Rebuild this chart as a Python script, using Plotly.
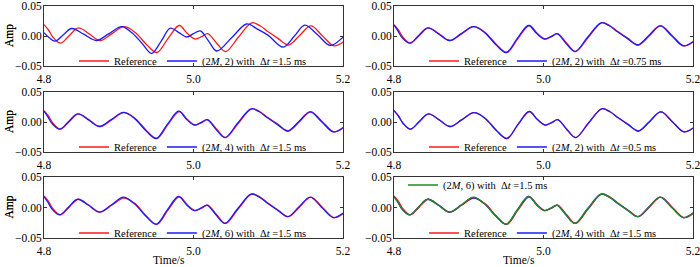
import plotly.graph_objects as go

# ---------------- data ----------------
ref_t = [4.800, 4.806, 4.812, 4.822, 4.834, 4.846, 4.860, 4.875, 4.891, 4.907, 4.922, 4.937,
         4.951, 4.966, 4.981, 4.992, 5.002, 5.011, 5.019, 5.031, 5.043, 5.060, 5.078, 5.089,
         5.100, 5.113, 5.127, 5.142, 5.157, 5.172, 5.188, 5.200]
ref_v = [0.019, 0.010, -0.002, -0.012, 0.001, 0.0135, 0.004, -0.0075, 0.004, 0.0155, 0.006, -0.014,
         -0.0275, -0.004, 0.0175, 0.004, -0.005, -0.001, 0.004, -0.012, -0.026, -0.002, 0.022, 0.017,
         0.007, -0.004, -0.015, 0.001, 0.017, 0.001, -0.0165, -0.010]

# (2M,2) with dt=1.5 ms
m2_15_t = [4.800, 4.807, 4.815, 4.826, 4.837, 4.853, 4.870, 4.887, 4.904, 4.918, 4.931, 4.944,
           4.957, 4.969, 4.980, 4.991, 5.000, 5.009, 5.020, 5.031, 5.051, 5.071, 5.085, 5.100,
           5.120, 5.135, 5.149, 5.166, 5.183, 5.200]
m2_15_v = [0.0056, -0.003, -0.0085, 0.002, 0.0125, 0.003, -0.0075, 0.004, 0.0157, 0.005, -0.012, -0.029,
           -0.008, 0.013, 0.006, -0.0017, 0.004, 0.0085, -0.008, -0.025, -0.003, 0.020, 0.012, 0.001,
           -0.0185, 0.000, 0.018, 0.002, -0.0157, -0.002]

# near-identical solutions (slight phase lead)
lead_t = [4.800, 4.805, 4.811, 4.821, 4.833, 4.845, 4.859, 4.874, 4.890, 4.906, 4.921, 4.936,
          4.950, 4.965, 4.980, 4.991, 5.001, 5.010, 5.018, 5.030, 5.042, 5.059, 5.077, 5.088,
          5.099, 5.112, 5.126, 5.141, 5.156, 5.171, 5.187, 5.200]
m2_075_v = [0.018, 0.009, -0.003, -0.012, 0.001, 0.0135, 0.004, -0.0075, 0.004, 0.0155, 0.006, -0.014,
            -0.0275, -0.004, 0.0175, 0.004, -0.005, -0.001, 0.004, -0.012, -0.026, -0.002, 0.022, 0.017,
            0.007, -0.004, -0.015, 0.001, 0.017, 0.001, -0.0165, -0.009]
m4_15_v = [0.018, 0.009, -0.003, -0.012, 0.001, 0.0135, 0.004, -0.0075, 0.004, 0.016, 0.006, -0.014,
           -0.0275, -0.004, 0.018, 0.004, -0.005, -0.001, 0.004, -0.012, -0.026, -0.002, 0.022, 0.017,
           0.007, -0.004, -0.015, 0.001, 0.017, 0.001, -0.0165, -0.009]
m2_05_v = [0.019, 0.010, -0.002, -0.012, 0.001, 0.0135, 0.004, -0.0075, 0.004, 0.0155, 0.006, -0.014,
           -0.0275, -0.004, 0.0175, 0.004, -0.005, -0.001, 0.004, -0.012, -0.026, -0.002, 0.022, 0.017,
           0.007, -0.004, -0.015, 0.001, 0.017, 0.001, -0.0165, -0.010]
m6_15_v = [0.018, 0.009, -0.003, -0.012, 0.001, 0.0135, 0.004, -0.0075, 0.004, 0.017, 0.006, -0.014,
           -0.0275, -0.004, 0.018, 0.004, -0.005, -0.001, 0.004, -0.012, -0.026, -0.002, 0.022, 0.017,
           0.007, -0.004, -0.015, 0.001, 0.017, 0.001, -0.0165, -0.009]

x_ticks = [4.8, 5.0, 5.2]
x_tick_labels = ["4.8", "5.0", "5.2"]
y_ticks = [-0.05, 0.0, 0.05]
y_tick_labels = ["\u22120.05", "0.00", "0.05"]

RED = "#ff1a1a"
BLUE = "#1a1aff"
GREEN = "#1e8c1e"
FONT = "Liberation Serif"
NB = "\u00a0"

def lbl(m, dt):
    return f"(2<i>M</i>, {m}) with{NB}{NB}\u0394<i>t</i>{NB}={dt} ms"

W, H = 700, 267
cols_px = [(44, 343), (394, 693)]
rows_px = [(6, 66), (92, 152), (177, 238)]

fig = go.Figure()

panels = [
    (0, 0, [(ref_t, ref_v, "Reference", RED), (m2_15_t, m2_15_v, lbl(2, "1.5"), BLUE)]),
    (0, 1, [(ref_t, ref_v, "Reference", RED), (lead_t, m2_075_v, lbl(2, "0.75"), BLUE)]),
    (1, 0, [(ref_t, ref_v, "Reference", RED), (lead_t, m4_15_v, lbl(4, "1.5"), BLUE)]),
    (1, 1, [(ref_t, ref_v, "Reference", RED), (ref_t, m2_05_v, lbl(2, "0.5"), BLUE)]),
    (2, 0, [(ref_t, ref_v, "Reference", RED), (lead_t, m6_15_v, lbl(6, "1.5"), BLUE)]),
    (2, 1, [(ref_t, ref_v, "Reference", RED), (lead_t, m4_15_v, lbl(4, "1.5"), BLUE)]),
]

legend_common = dict(orientation="h", xref="container", yref="container",
                     xanchor="left", yanchor="middle", bgcolor="rgba(0,0,0,0)",
                     font=dict(family=FONT, size=10.5, color="black"), itemwidth=30)

for i, (r, c, traces) in enumerate(panels):
    k = i + 1
    xa = "x" if k == 1 else f"x{k}"
    ya = "y" if k == 1 else f"y{k}"
    leg = "legend" if k == 1 else f"legend{k}"
    for (t, v, name, color) in traces:
        fig.add_trace(go.Scatter(x=t, y=v, mode="lines", name=name,
                                 line=dict(color=color, width=1.3, shape="spline", smoothing=1.0),
                                 xaxis=xa, yaxis=ya, legend=leg))
    x0, x1 = cols_px[c]
    y0, y1 = rows_px[r]
    axis_common = dict(showline=True, linecolor="#333333", linewidth=1, mirror="ticks",
                       ticks="inside", ticklen=3, tickcolor="#333333", showgrid=False,
                       zeroline=False, automargin=False, ticklabeloverflow="allow",
                       tickfont=dict(family=FONT, size=11.5, color="black"))
    fig.update_layout(**{
        ("xaxis" if k == 1 else f"xaxis{k}"): dict(
            domain=[x0 / W, x1 / W], anchor=ya, range=[4.8, 5.2], ticklabelstandoff=2,
            tickvals=x_ticks, ticktext=x_tick_labels, **axis_common),
        ("yaxis" if k == 1 else f"yaxis{k}"): dict(
            domain=[1 - y1 / H, 1 - y0 / H], anchor=xa, range=[-0.05, 0.05],
            ticklabelstandoff=-1,
            tickvals=y_ticks, ticktext=y_tick_labels, **axis_common),
        leg: dict(x=(x0 + 30) / W, y=1 - (y1 - 5) / H, **legend_common),
    })
    fig.add_annotation(text="Amp", textangle=-90, x=9 / W, y=1 - ((y0 + y1) / 2) / H,
                       xref="paper", yref="paper", showarrow=False,
                       xanchor="center", yanchor="middle",
                       font=dict(family=FONT, size=11.5, color="black"))

fig.add_trace(go.Scatter(x=lead_t, y=m6_15_v, mode="lines", name=lbl(6, "1.5"),
                         line=dict(color=GREEN, width=1.3, shape="spline", smoothing=1.0),
                         xaxis="x6", yaxis="y6", legend="legend7"))
fig.update_layout(legend7=dict(x=403 / W, y=1 - 185 / H, **legend_common))

for cx in [168.5, 518.5]:
    fig.add_annotation(text="Time/s", x=cx / W, y=1 - 259.5 / H, xref="paper", yref="paper",
                       showarrow=False, xanchor="center", yanchor="middle",
                       font=dict(family=FONT, size=11.5, color="black"))

fig.update_layout(width=W, height=H, margin=dict(l=0, r=0, t=0, b=0, autoexpand=False),
                  paper_bgcolor="white", plot_bgcolor="white", showlegend=True)

fig.write_html("out.html", config={"displayModeBar": False},
               post_script="document.body.style.margin='0';document.body.style.padding='0';")
